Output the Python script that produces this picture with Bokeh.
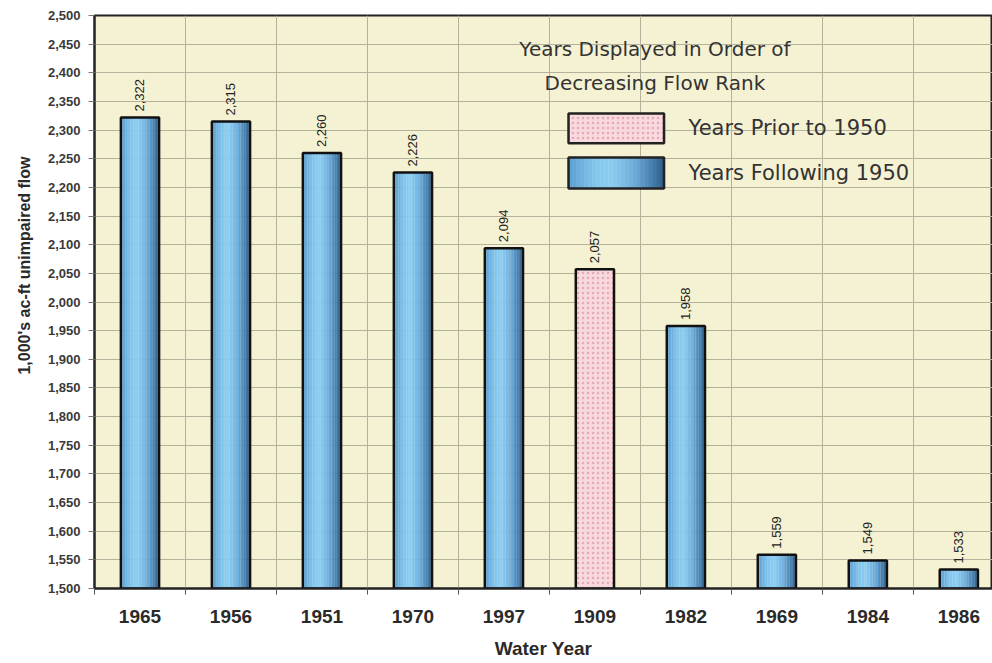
import math
from bokeh.plotting import figure
from bokeh.models import ColumnDataSource, FixedTicker, Range1d, NumeralTickFormatter, Label, Title
from bokeh.core.properties import value
from bokeh.embed import file_html
from bokeh.resources import INLINE

years = ["1965", "1956", "1951", "1970", "1997", "1909", "1982", "1969", "1984", "1986"]
flows = [2322, 2315, 2260, 2226, 2094, 2057, 1958, 1559, 1549, 1533]
prior_1950 = [False, False, False, False, False, True, False, False, False, False]
y_ticks = list(range(1500, 2501, 50))

xs = list(range(len(years)))
BAR_W = 0.42

p = figure(width=992, height=663, frame_width=898, frame_height=573,
           x_range=Range1d(-0.5, 9.37), y_range=Range1d(1500, 2500),
           output_backend="svg", toolbar_location=None,
           min_border_left=94, min_border_right=0, min_border_top=15, min_border_bottom=75)
p.background_fill_color = "#f5f2d3"
p.border_fill_color = "white"
p.outline_line_color = "#222222"
p.outline_line_width = 2

# grids
p.xgrid.ticker = FixedTicker(ticks=[i + 0.5 for i in xs])
p.ygrid.ticker = FixedTicker(ticks=y_ticks)
p.xgrid.grid_line_color = "#b5b29b"
p.ygrid.grid_line_color = "#b5b29b"

# axes
p.xaxis.ticker = FixedTicker(ticks=xs, minor_ticks=[i - 0.5 for i in xs] + [len(xs) - 0.5])
p.xaxis.major_label_overrides = {i: y for i, y in enumerate(years)}
p.xaxis.major_tick_line_color = None
p.xaxis.minor_tick_line_color = "#555555"
p.xaxis.minor_tick_out = 6
p.xaxis.minor_tick_in = 0
p.xaxis.major_label_text_font = "Liberation Sans"
p.xaxis.major_label_text_font_style = "bold"
p.xaxis.major_label_text_font_size = "19px"
p.xaxis.major_label_text_color = "#2a2a2a"
p.xaxis.major_label_standoff = 15
p.xaxis.axis_line_color = "#222222"
p.xaxis.axis_line_width = 2
p.xaxis.axis_label = "Water Year"
p.xaxis.axis_label_text_font = "Liberation Sans"
p.xaxis.axis_label_text_font_style = "bold"
p.xaxis.axis_label_text_font_size = "19px"
p.xaxis.axis_label_text_color = "#2a2a2a"
p.xaxis.axis_label_standoff = 12

p.yaxis.ticker = FixedTicker(ticks=y_ticks)
p.yaxis.formatter = NumeralTickFormatter(format="0,0")
p.yaxis.major_label_text_font = "Liberation Sans"
p.yaxis.major_label_text_font_style = "bold"
p.yaxis.major_label_text_font_size = "13px"
p.yaxis.major_label_text_color = "#3a3a3a"
p.yaxis.major_tick_out = 6
p.yaxis.major_tick_in = 0
p.yaxis.major_tick_line_color = "#777777"
p.yaxis.minor_tick_line_color = None
p.yaxis.axis_line_color = "#222222"
p.yaxis.axis_line_width = 2
p.yaxis.major_label_standoff = 8

# y-axis title (placed above centre, as in the original)
ytitle = Title(text="1,000's ac-ft unimpaired flow", align="right", offset=141,
               text_font="Liberation Sans", text_font_style="bold", text_font_size="16px",
               text_color="#2a2a2a", standoff=24)
p.add_layout(ytitle, "left")

# bars
blue_x = [x for x, pr in zip(xs, prior_1950) if not pr]
blue_top = [f for f, pr in zip(flows, prior_1950) if not pr]
pink_x = [x for x, pr in zip(xs, prior_1950) if pr]
pink_top = [f for f, pr in zip(flows, prior_1950) if pr]


def hex2rgb(h):
    return tuple(int(h[i:i + 2], 16) for i in (1, 3, 5))


stops = [(0.0, "#5a9dd4"), (0.3, "#84c8f0"), (0.45, "#8acdf3"),
         (0.7, "#69a9da"), (0.9, "#3f77a8"), (1.0, "#2c5a86")]


def grad_color(t):
    for (t0, c0), (t1, c1) in zip(stops[:-1], stops[1:]):
        if t0 <= t <= t1:
            a = (t - t0) / (t1 - t0)
            r0, r1 = hex2rgb(c0), hex2rgb(c1)
            return "#%02x%02x%02x" % tuple(int(round(u + (v - u) * a)) for u, v in zip(r0, r1))
    return stops[-1][1]


n = 24
grad = [grad_color((k + 0.5) / n) for k in range(n)]
sw = BAR_W / n
for k, c in enumerate(grad):
    off = -BAR_W / 2 + sw * (k + 0.5)
    p.vbar(x=[x + off for x in blue_x], top=blue_top, bottom=1500, width=sw * 1.1,
           fill_color=c, line_color=None)
p.vbar(x=blue_x, top=blue_top, bottom=1500, width=BAR_W, fill_color=None,
       line_color="#111111", line_width=2.5)

p.vbar(x=pink_x, top=pink_top, bottom=1500, width=BAR_W, fill_color="#f7d9de",
       hatch_pattern="dot", hatch_color="#e7a9b4", hatch_scale=5, hatch_weight=1.2,
       line_color="#111111", line_width=2.5)

# value labels
src = ColumnDataSource(dict(x=xs, y=flows, t=[f"{v:,}" for v in flows]))
p.text(x="x", y="y", text="t", source=src, angle=math.pi / 2, y_offset=-6,
       text_align="left", text_baseline="middle", text_font=value("Liberation Sans"),
       text_font_size="13px", text_color="#222222")

# legend (custom)
legend_font = "DejaVu Sans"
p.add_layout(Label(x=5.66, y=2442, text="Years Displayed in Order of", text_align="center",
                   text_baseline="middle", text_font=legend_font, text_font_size="20px",
                   text_color="#333333"))
p.add_layout(Label(x=5.66, y=2383, text="Decreasing Flow Rank", text_align="center",
                   text_baseline="middle", text_font=legend_font, text_font_size="20px",
                   text_color="#333333"))
p.quad(left=[4.71], right=[5.76], bottom=[2277], top=[2329], fill_color="#f7d9de",
       hatch_pattern="dot", hatch_color="#e7a9b4", hatch_scale=5, hatch_weight=1.2,
       line_color="#222222", line_width=2.5)
lw = (5.76 - 4.71) / n
for k, c in enumerate(grad):
    p.quad(left=[4.71 + lw * k], right=[4.71 + lw * (k + 1) + 0.004], bottom=[2198], top=[2252],
           fill_color=c, line_color=None)
p.quad(left=[4.71], right=[5.76], bottom=[2198], top=[2252], fill_color=None,
       line_color="#222222", line_width=2.5)
p.add_layout(Label(x=6.03, y=2303, text="Years  Prior to 1950", text_baseline="middle",
                   text_font=legend_font, text_font_size="21px", text_color="#333333"))
p.add_layout(Label(x=6.03, y=2226, text="Years  Following 1950", text_baseline="middle",
                   text_font=legend_font, text_font_size="21px", text_color="#333333"))

open("out.html", "w").write(file_html(p, INLINE))
